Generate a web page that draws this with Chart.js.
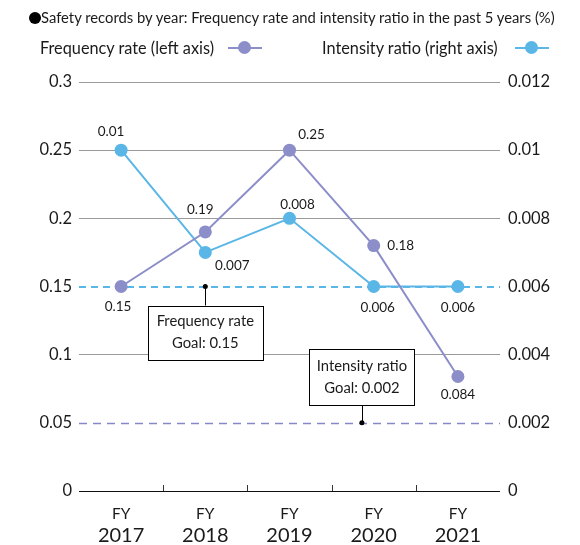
<!DOCTYPE html>
<html>
<head>
<meta charset="utf-8">
<script src="https://cdn.jsdelivr.net/npm/chart.js@4/dist/chart.umd.min.js"></script>
<style>
  html, body { margin: 0; padding: 0; background: #fff; }
  body { width: 580px; height: 545px; position: relative; overflow: hidden;
         font-family: Lato, "Open Sans", sans-serif; color: #1a1a1a; }
  #wrap { position: absolute; left: 0; top: 0; width: 580px; height: 545px; }
  .title { position: absolute; left: 29px; top: 8px; font-size: 14.8px; line-height: 18px; white-space: nowrap; }
  .title .dot { display: inline-block; width: 12px; height: 12px; border-radius: 50%; background: #000;
                vertical-align: -1px; }
  .leg { position: absolute; top: 38px; font-size: 16.3px; line-height: 20px; white-space: nowrap; }
  .mk { position: absolute; top: 41px; width: 34px; height: 14px; }
  .mk .ln { position: absolute; left: 0; right: 0; top: 6px; height: 2px; }
  .mk .pt { position: absolute; left: 10px; top: 0; width: 13px; height: 13px; border-radius: 50%; }
</style>
</head>
<body>
<div id="wrap"><canvas id="c" width="580" height="545"></canvas></div>
<div class="title"><span class="dot"></span>Safety records by year: Frequency rate and intensity ratio in the past 5 years (%)</div>
<div class="leg" style="left:40px">Frequency rate (left axis)</div>
<div class="mk" style="left:228px"><div class="ln" style="background:#8c8ec9"></div><div class="pt" style="background:#8c8ec9"></div></div>
<div class="leg" style="left:322px">Intensity ratio (right axis)</div>
<div class="mk" style="left:515px"><div class="ln" style="background:#5ab6e6"></div><div class="pt" style="background:#5ab6e6"></div></div>
<script>
// Fiscal years
const fyLabels = ['FY', 'FY', 'FY', 'FY', 'FY'];
const years = ['2017', '2018', '2019', '2020', '2021'];
// Frequency rate (left axis) and intensity ratio (right axis)
const frequencyRate = [0.15, 0.19, 0.25, 0.18, 0.084];
const intensityRatio = [0.01, 0.007, 0.008, 0.006, 0.006];
const frequencyText = ['0.15', '0.19', '0.25', '0.18', '0.084'];
const intensityText = ['0.01', '0.007', '0.008', '0.006', '0.006'];
// Goals
const frequencyGoal = 0.15;
const intensityGoal = 0.002;
// Axis tick labels
const leftTicks = ['0', '0.05', '0.1', '0.15', '0.2', '0.25', '0.3'];
const rightTicks = ['0', '0.002', '0.004', '0.006', '0.008', '0.01', '0.012'];

const PURPLE = '#8c8ec9';
const BLUE = '#5ab6e6';
const FONT = 'Lato, "Open Sans", sans-serif';

// value label offsets (dx, dy) from each point, in pixels
const freqLabelOffset = [[-3, 20], [-5, -22], [22, -16], [27, 0], [0, 18]];
const intLabelOffset = [[-10, -19], [27, 13], [8, -14], [4, 21], [0, 21]];

function placeLabel(ctx, text, x, y, off) {
  ctx.textAlign = 'center';
  ctx.textBaseline = 'middle';
  ctx.fillText(text, x + off[0], y + off[1]);
}

const decorPlugin = {
  id: 'decor',
  beforeDatasetsDraw(chart) {
    const { ctx, chartArea: a, scales } = chart;
    ctx.save();
    // goal lines
    const yF = Math.round(scales.y.getPixelForValue(frequencyGoal));
    ctx.strokeStyle = BLUE; ctx.lineWidth = 2; ctx.setLineDash([7, 5]);
    ctx.beginPath(); ctx.moveTo(a.left, yF); ctx.lineTo(a.right, yF); ctx.stroke();
    const yI = Math.round(scales.y1.getPixelForValue(intensityGoal)) + 0.5;
    ctx.strokeStyle = '#8587c6'; ctx.lineWidth = 1.6; ctx.setLineDash([8, 6]);
    ctx.beginPath(); ctx.moveTo(a.left, yI); ctx.lineTo(a.right, yI); ctx.stroke();
    ctx.setLineDash([]);
    // category separators on the baseline
    const x = scales.x;
    const yb = scales.y.getPixelForValue(0);
    ctx.strokeStyle = '#333'; ctx.lineWidth = 1;
    for (let i = 1; i < years.length; i++) {
      const px = Math.round((x.getPixelForTick(i - 1) + x.getPixelForTick(i)) / 2) + 0.5;
      ctx.beginPath(); ctx.moveTo(px, yb); ctx.lineTo(px, yb - 6); ctx.stroke();
    }
    ctx.restore();
  },
  afterDatasetsDraw(chart) {
    const { ctx, scales } = chart;
    ctx.save();
    ctx.font = '13.5px ' + FONT;
    ctx.fillStyle = '#1a1a1a';
    chart.getDatasetMeta(0).data.forEach((p, i) => placeLabel(ctx, frequencyText[i], p.x, p.y, freqLabelOffset[i]));
    chart.getDatasetMeta(1).data.forEach((p, i) => placeLabel(ctx, intensityText[i], p.x, p.y, intLabelOffset[i]));

    // goal callouts
    function callout(ax, ay, lines, w, h, gap, up) {
      ctx.strokeStyle = '#000'; ctx.lineWidth = 1; ctx.fillStyle = '#000';
      ctx.beginPath(); ctx.arc(ax, ay, 2.5, 0, Math.PI * 2); ctx.fill();
      const top = up ? ay - gap - h : ay + gap;
      ctx.beginPath(); ctx.moveTo(Math.round(ax) + 0.5, ay);
      ctx.lineTo(Math.round(ax) + 0.5, up ? ay - gap : ay + gap); ctx.stroke();
      const left = Math.round(ax - w / 2) + 0.5;
      ctx.fillStyle = '#fff';
      ctx.fillRect(left, Math.round(top) + 0.5, w, h);
      ctx.strokeRect(left, Math.round(top) + 0.5, w, h);
      ctx.fillStyle = '#1a1a1a';
      ctx.font = '14.8px ' + FONT;
      ctx.textAlign = 'center'; ctx.textBaseline = 'middle';
      ctx.fillText(lines[0], ax, top + h / 2 - 11);
      ctx.fillText(lines[1], ax, top + h / 2 + 11);
    }
    callout(scales.x.getPixelForValue(1), scales.y.getPixelForValue(frequencyGoal),
      ['Frequency rate', 'Goal: ' + frequencyGoal], 115, 54, 19, false);
    callout(scales.x.getPixelForValue(2.86), scales.y1.getPixelForValue(intensityGoal),
      ['Intensity ratio', 'Goal: ' + intensityGoal], 105, 56, 18, true);
    ctx.restore();
  }
};

new Chart(document.getElementById('c'), {
  type: 'line',
  data: {
    labels: fyLabels,
    datasets: [
      { label: 'Frequency rate (left axis)', data: frequencyRate, yAxisID: 'y',
        borderColor: PURPLE, backgroundColor: PURPLE, borderWidth: 2,
        pointRadius: 6.5, pointHoverRadius: 6.5, pointBorderWidth: 0, tension: 0 },
      { label: 'Intensity ratio (right axis)', data: intensityRatio, yAxisID: 'y1',
        borderColor: BLUE, backgroundColor: BLUE, borderWidth: 2,
        pointRadius: 6.5, pointHoverRadius: 6.5, pointBorderWidth: 0, tension: 0 }
    ]
  },
  options: {
    responsive: false,
    animation: false,
    devicePixelRatio: 1,
    layout: { padding: { top: 82, left: 0, right: 0, bottom: 0 } },
    plugins: { legend: { display: false }, tooltip: { enabled: false } },
    scales: {
      x: {
        type: 'category', position: 'bottom', offset: true, weight: 0,
        grid: { display: false, drawTicks: false }, border: { display: false },
        ticks: { color: '#1a1a1a', font: { family: FONT, size: 15.5 }, padding: 14, maxRotation: 0 },
        afterFit(s) { s.height = 33; }
      },
      x2: {
        type: 'category', position: 'bottom', offset: true, weight: 1, labels: years,
        grid: { display: false, drawTicks: false }, border: { display: false },
        ticks: { color: '#1a1a1a', font: { family: FONT, size: 20 }, padding: 0, maxRotation: 0 },
        afterFit(s) { s.height = 21; }
      },
      y: {
        position: 'left', min: 0, max: 0.3,
        afterBuildTicks(s) { s.ticks = leftTicks.map(t => ({ value: Number(t) })); },
        ticks: { color: '#1a1a1a', font: { family: FONT, size: 16.5 }, padding: 7,
                 callback: (v, i) => leftTicks[i] },
        grid: {
          drawTicks: false, lineWidth: 1,
          color: c => (c.tick.value === 0 ? '#111' :
                       (Math.abs(c.tick.value - frequencyGoal) < 1e-9 || Math.abs(c.tick.value - 0.05) < 1e-9) ? 'rgba(0,0,0,0)' : '#9a9a9a')
        },
        border: { display: false },
        afterFit(s) { s.width = 79; }
      },
      y1: {
        position: 'right', min: 0, max: 0.012,
        afterBuildTicks(s) { s.ticks = rightTicks.map(t => ({ value: Number(t) })); },
        ticks: { color: '#1a1a1a', font: { family: FONT, size: 16.5 }, padding: 8,
                 callback: (v, i) => rightTicks[i] },
        grid: { display: false, drawTicks: false }, border: { display: false },
        afterFit(s) { s.width = 80; }
      }
    }
  },
  plugins: [decorPlugin]
});
</script>
</body>
</html>
